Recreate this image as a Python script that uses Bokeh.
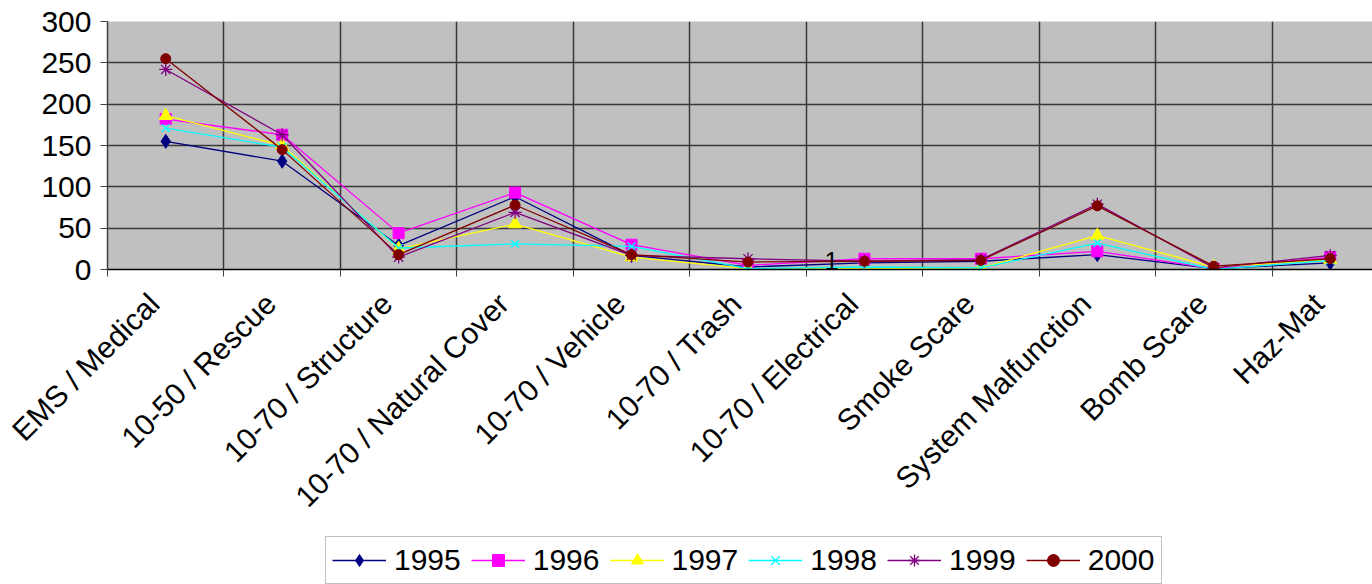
from bokeh.plotting import figure
from bokeh.models import Range1d, FixedTicker, Legend, LegendItem, Label
from bokeh.layouts import column
from bokeh.embed import file_html
from bokeh.resources import INLINE
import math

categories = ["EMS / Medical", "10-50 / Rescue", "10-70 / Structure", "10-70 / Natural Cover",
              "10-70 / Vehicle", "10-70 / Trash", "10-70 / Electrical", "Smoke Scare",
              "System Malfunction", "Bomb Scare", "Haz-Mat"]

y1995 = [155, 131, 29, 88, 17, 3, 8, 10, 18, 1, 8]
y1996 = [182, 163, 44, 93, 30, 5, 13, 13, 22, 1, 15]
y1997 = [186, 150, 25, 55, 15, 1, 1, 2, 41, 3, 12]
y1998 = [171, 148, 26, 31, 28, 1, 3, 2, 32, 0, 11]
y1999 = [242, 163, 15, 69, 17, 13, 10, 12, 79, 2, 17]
y2000 = [255, 145, 18, 78, 18, 9, 10, 11, 77, 4, 13]

series_names = ["1995", "1996", "1997", "1998", "1999", "2000"]
series_values = [y1995, y1996, y1997, y1998, y1999, y2000]
y_ticks = [0, 50, 100, 150, 200, 250, 300]

colors = ["#000080", "#FF00FF", "#FFFF00", "#00FFFF", "#800080", "#800000"]
markers = ["diamond", "square", "triangle", "x", "asterisk", "circle"]
sizes = [14, 11, 13, 11, 13, 10]

FONT = "Liberation Sans"
FS = "30px"
xs = [i + 0.5 for i in range(len(categories))]
label_pos = [i + 0.4 for i in range(len(categories))]


def draw_series(fig):
    items = []
    for name, vals, col, mk, sz in zip(series_names, series_values, colors, markers, sizes):
        r1 = fig.line(xs, vals, line_color=col, line_width=1.3)
        if mk in ("x", "asterisk"):
            r2 = fig.scatter(xs, vals, marker=mk, size=sz, line_color=col, line_width=1.3)
        else:
            r2 = fig.scatter(xs, vals, marker=mk, size=sz, fill_color=col, line_color=col)
        items.append(LegendItem(label=name, renderers=[r1, r2]))
    return items


p = figure(width=1372, height=534, output_backend="svg", toolbar_location=None,
           x_range=Range1d(0, 10.863), y_range=Range1d(0, 300),
           min_border_left=107, min_border_right=0, min_border_top=21, min_border_bottom=265)
p.background_fill_color = "#C0C0C0"
p.border_fill_color = "white"
p.outline_line_color = None

p.xaxis.ticker = FixedTicker(ticks=label_pos, minor_ticks=list(range(len(categories) + 1)))
p.xaxis.major_label_overrides = {x: c for x, c in zip(label_pos, categories)}
p.xaxis.major_label_orientation = math.pi / 4
p.xaxis.major_tick_out = 0
p.xaxis.major_tick_in = 0
p.xaxis.minor_tick_out = 7
p.xaxis.minor_tick_in = 0
p.xaxis.minor_tick_line_color = "#404040"
p.xaxis.axis_line_color = "black"
p.xaxis.axis_line_width = 1.5
p.xaxis.major_label_text_font = FONT
p.xaxis.major_label_text_font_size = FS
p.xaxis.major_label_text_color = "black"
p.xaxis.major_label_standoff = 22

p.yaxis.ticker = FixedTicker(ticks=y_ticks)
p.yaxis.major_tick_out = 7
p.yaxis.major_tick_in = 0
p.yaxis.minor_tick_line_color = None
p.yaxis.axis_line_color = "#404040"
p.yaxis.axis_line_width = 1.5
p.yaxis.major_tick_line_color = "#404040"
p.yaxis.major_label_text_font = FONT
p.yaxis.major_label_text_font_size = FS
p.yaxis.major_label_text_color = "black"
p.yaxis.major_label_standoff = 9

p.xgrid.ticker = FixedTicker(ticks=list(range(len(categories) + 1)))
p.xgrid.grid_line_color = "#383838"
p.xgrid.grid_line_width = 1.5
p.ygrid.grid_line_color = "#383838"
p.ygrid.grid_line_width = 1.5

draw_series(p)

# stray data label "1" near 10-70 / Electrical (1997 value)
p.add_layout(Label(x=xs[6], y=y1997[6], text="1", x_offset=-33, y_offset=8,
                   text_align="center", text_baseline="alphabetic",
                   text_font=FONT, text_font_size="25px", text_color="black"))

# legend strip (same series, frame range kept away from the data so only the legend shows)
p2 = figure(width=1372, height=50, output_backend="svg", toolbar_location=None,
            x_range=Range1d(100, 101), y_range=Range1d(1000, 1001),
            x_axis_type=None, y_axis_type=None,
            min_border_left=0, min_border_right=0, min_border_top=0, min_border_bottom=0)
p2.outline_line_color = None
p2.grid.visible = False
p2.background_fill_color = "white"
items = draw_series(p2)
legend = Legend(items=items, orientation="horizontal", location=(218, 0),
                label_text_font=FONT, label_text_font_size=FS, label_text_color="black",
                glyph_width=54, glyph_height=30, label_standoff=8, spacing=10,
                padding=6, margin=0, border_line_color="#808080", border_line_width=1.5,
                background_fill_color="white", background_fill_alpha=1.0)
p2.add_layout(legend, "center")

layout = column(p, p2, spacing=0)
open("out.html", "w").write(file_html(layout, INLINE))
